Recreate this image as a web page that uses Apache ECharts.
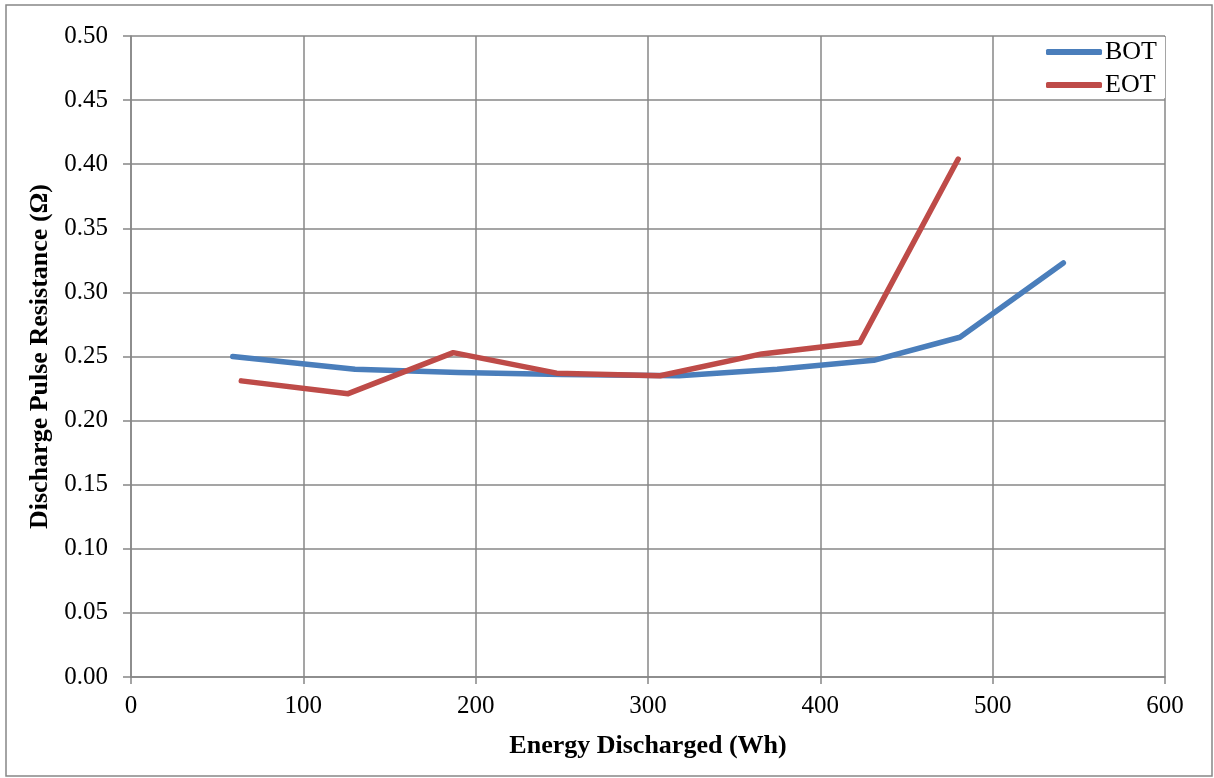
<!DOCTYPE html>
<html>
<head>
<meta charset="utf-8">
<script src="https://cdn.jsdelivr.net/npm/echarts@6/dist/echarts.min.js"></script>
<style>
html,body{margin:0;padding:0;background:#fff;}
#chart{width:1214px;height:778px;}
</style>
</head>
<body>
<div id="chart"></div>
<script>
var seriesNames = ['BOT', 'EOT'];
var botEnergy = [59, 130, 190, 250, 318, 375, 431, 481, 541];
var botResistance = [0.250, 0.240, 0.2375, 0.236, 0.235, 0.240, 0.247, 0.265, 0.323];
var eotEnergy = [64, 126, 187, 247, 307, 366, 423, 480];
var eotResistance = [0.231, 0.221, 0.253, 0.237, 0.235, 0.252, 0.261, 0.404];
var xAxisTitle = 'Energy Discharged (Wh)';
var yAxisTitle = 'Discharge Pulse Resistance (Ω)';

function pairs(xs, ys) { return xs.map(function (x, i) { return [x, ys[i]]; }); }

var FONT = '"Liberation Serif", "Times New Roman", serif';
var GRIDC = '#878787';

var chart = echarts.init(document.getElementById('chart'));
chart.setOption({
  animation: false,
  backgroundColor: '#fff',
  textStyle: { fontFamily: FONT, color: '#000' },
  graphic: [{
    type: 'rect', silent: true, z: -1,
    shape: { x: 6, y: 5, width: 1206, height: 771 },
    style: { fill: 'none', stroke: GRIDC, lineWidth: 1.5 }
  }],
  grid: { left: 131, right: 49, top: 36, bottom: 101 },
  legend: {
    orient: 'vertical', right: 49, top: 37,
    padding: [2, 8, 0, 6],
    backgroundColor: '#fff',
    itemWidth: 56, itemHeight: 6, itemGap: 7,
    icon: 'roundRect',
    textStyle: { fontFamily: FONT, fontSize: 26, color: '#000', padding: [0, 0, 0, -2] },
    data: seriesNames
  },
  xAxis: {
    type: 'value', min: 0, max: 600, interval: 100,
    name: xAxisTitle, nameLocation: 'middle', nameGap: 56,
    nameTextStyle: { fontFamily: FONT, fontSize: 26, fontWeight: 'bold', color: '#000' },
    axisLine: { show: true, lineStyle: { color: GRIDC, width: 1.5 } },
    axisTick: { show: true, length: 7, lineStyle: { color: GRIDC, width: 1.5 } },
    axisLabel: { fontFamily: FONT, fontSize: 25, color: '#000', margin: 17 },
    splitLine: { show: true, lineStyle: { color: GRIDC, width: 1.5 } }
  },
  yAxis: {
    type: 'value', min: 0, max: 0.5, interval: 0.05,
    name: yAxisTitle, nameLocation: 'middle', nameGap: 76,
    nameTextStyle: { fontFamily: FONT, fontSize: 26, fontWeight: 'bold', color: '#000' },
    axisLine: { show: true, lineStyle: { color: GRIDC, width: 1.5 } },
    axisTick: { show: true, length: 8, lineStyle: { color: GRIDC, width: 1.5 } },
    axisLabel: { fontFamily: FONT, fontSize: 25, color: '#000', margin: 23,
      formatter: function (v) { return v.toFixed(2); } },
    splitLine: { show: true, lineStyle: { color: GRIDC, width: 1.5 } }
  },
  series: [{
    name: seriesNames[0], type: 'line', data: pairs(botEnergy, botResistance),
    symbol: 'none', color: '#4A7EBB',
    lineStyle: { width: 5.5, color: '#4A7EBB', cap: 'round', join: 'round' }
  }, {
    name: seriesNames[1], type: 'line', data: pairs(eotEnergy, eotResistance),
    symbol: 'none', color: '#BE4B48',
    lineStyle: { width: 5.5, color: '#BE4B48', cap: 'round', join: 'round' }
  }]
});
</script>
</body>
</html>
